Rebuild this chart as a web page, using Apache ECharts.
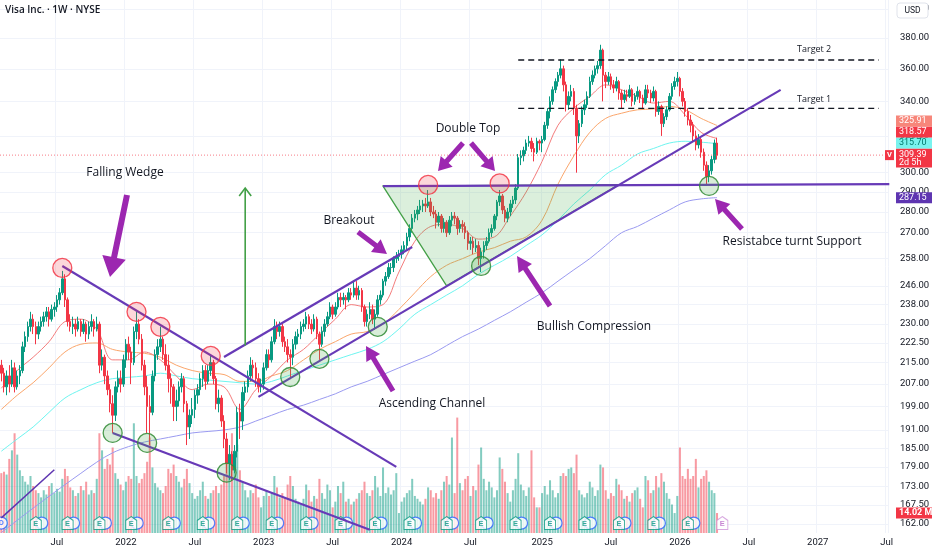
<!DOCTYPE html>
<html><head><meta charset="utf-8">
<script src="https://cdn.jsdelivr.net/npm/echarts@6/dist/echarts.min.js"></script>
<style>html,body{margin:0;padding:0;background:#fff}#c{width:932px;height:550px}</style>
</head><body><div id="c"></div>
<script>
// ---------------- DATA ----------------
const firstWeek = '2021-02-08';   // Monday of first weekly bar
const weekSlots = 335;            // axis runs to Jul 2027
// weekly bars: [open, high, low, close]
const weeklyOHLC = [
[214,216,208,211],[211,213,204,206],[206,212,203,210],[210,214,204,207],[207,216,206,213],[213,215,204,206],[206,212,205,210],[210,214,207,212],[212,223,211,221],[221,227,219,225],
[225,231,223,229],[229,235,227,232],[232,234,226,229],[229,231,222,226],[226,231,224,229],[229,233,227,231],[231,235,229,233],[233,237,231,235],[235,237,229,232],[232,238,231,236],
[236,239,233,237],[237,242,235,240],[240,245,238,243],[243,252.5,242,249],[249,251,237,240],[240,241,229,231],[231,234,227,229],[229,233,226,230],[230,232,225,228],[228,233,227,231],
[231,232,225,227],[227,232,226,230],[230,231,223,226],[226,231,224,229],[229,234,227,231],[231,232,225,228],[228,233,227,230],[230,231,211,214],[214,220,212,217],[217,218,207,210],
[210,212,203,205],[205,207,197,200],[200,203,190,196],[196,208,194,206],[206,212,204,209],[209,212,204,207],[207,218,206,216],[216,224,213,222],[222,225,216,219],[219,221,207,215],
[215,229,214,227],[227,235,224,230],[230,232,222,224],[224,226,212,214],[214,216,203,206],[206,210,190,199],[199,203,186,197],[197,212,196,210],[210,220,208,218],[218,224,216,221],
[221,229,219,224],[224,225,216,218],[218,222,212,214],[214,218,204,209],[209,211,200,206],[206,207,194,199],[199,205,194,201],[201,208,199,206],[206,211,204,209],[209,210,197,200],
[200,201,186,192],[192,198,188,196],[196,202,193,198],[198,205,195,203],[203,207,200,205],[205,211,203,209],[209,214,206,212],[212,214,205,208],[208,214,207,212],[212,217.5,210,215],
[215,216,207,209],[209,210,198,200],[200,205,197,202],[202,203,192,194],[194,196,185,188],[188,190,177,180],[180,186,175,183],[183,184,174.6,178],[178,186,177,184],[184,199,182,197],
[197,200,188,194],[194,206,191,204],[204,208,201,206],[206,212,204,210],[210,217,208,214],[214,216,209,213],[213,215,206,209],[209,211,204,206],[206,209,204,207],[207,215,205,213],
[213,220,212,218],[218,220,213,216],[216,225,215,223],[223,232,222,229],[229,231,224,227],[227,231,225,229],[229,230,221,223],[223,225,219,221],[221,224,215,218],[218,220,208.8,217],
[217,224,214,222],[222,227,220,225],[225,228,222,226],[226,231,224,229],[229,232,227,230],[230,235,228,233],[233,234,228,230],[230,232,226,228],[228,234,227,232],[232,233,224,226],
[226,227,216,222],[222,229,221,227],[227,232,225,230],[230,235,229,233],[233,239,232,237],[237,238,232,234],[234,239,233,237],[237,243,236,241],[241,243,237,240],[240,243,238,241],
[241,242,236,240],[240,245,239,243],[243,245,240,242],[242,248,241,245],[245,248,240,242],[242,246,240,244],[244,245,235,237],[237,238,229,231],[231,236,229,234],[234,239,232,236],
[236,238,230,232],[232,236,227.8,234],[234,242,233,240],[240,244,238,242],[242,249,241,248],[248,252,246,250],[250,256,249,254],[254,256,251,254],[254,259,252,258],[258,261,256,259],
[259,262,257,260],[260,264,258,262],[262,266,260,264],[264,270,262,268],[268,274,266,272],[272,279,270,277],[277,281,275,279],[279,283,276,281],[281,286,279,283],[283,286,280,284],
[284,287,280,283],[283,291,282,285],[285,287,278,280],[280,283,277,279],[279,281,272,275],[275,280,273,278],[278,279,270,272],[272,277,270,275],[275,276,268,270],[270,278,269,276],
[276,280,273,278],[278,280,274,277],[277,278,269,272],[272,276,270,274],[274,276,270,273],[273,275,267,270],[270,271,262,265],[265,268,262,266],[266,268,260,263],[263,267,261,264],
[264,266,255,258],[258,263,252,261],[261,266,258,264],[264,268,262,266],[266,272,265,270],[270,274,268,272],[272,279,271,278],[278,286,276,285],[285,291,283,288],[288,289,279,281],
[281,283,275,277],[277,282,275,280],[280,286,278,284],[284,288,282,286],[286,294,284,292],[292,310,291,308],[308,312,304,309],[309,314,306,312],[312,318,310,316],[316,320,314,317],
[317,319,311,313],[313,316,306,311],[311,319,310,317],[317,318,312,316],[316,320,311,318],[318,328,317,326],[326,336,324,334],[334,343,330,340],[340,349,338,347],[347,354,345,352],
[352,358,349,356],[356,366,354,360],[360,362,346,350],[350,352,334,338],[338,346,335,343],[343,350,340,346],[346,348,332,336],[336,338,300,320],[320,329,316,327],[327,337,325,335],
[335,341,332,338],[338,346,336,343],[343,355,342,352],[352,359,350,356],[356,362,354,360],[360,365,357,362],[362,375.5,360,372],[372,373,340,356],[356,358,348,352],[352,358,350,355],
[355,357,347,350],[350,353,345,348],[348,355,346,352],[352,353,341,345],[345,347,336,341],[341,347,339,344],[344,347,340,343],[343,350,342,347],[347,348,337,340],[340,345,338,343],
[343,349,341,346],[346,347,339,342],[342,344,336,339],[339,350,338,347],[347,350,342,345],[345,347,339,342],[342,349,340,346],[346,347,331,334],[334,340,332,337],[337,338,320,327],
[327,333,325,331],[331,337,329,335],[335,345,334,343],[343,351,341,349],[349,355,347,352],[352,358,349,354],[354,355,343,346],[346,348,337,340],[340,342,331,334],[334,336,326,329],
[329,332,322,326],[326,328,317,320],[320,323,312,315],[315,321,313,318],[318,319,308,311],[311,313,301,304],[304,306,294,298],[298,304,295,301],[301,309,299,307],[307,318,305,316],
[316,319,307,309.39]
];
// weekly volume, millions
const weeklyVolume = [
42,43,41,52,58,70,55,44,40,36, 34,40,33,30,28,25,30,27,33,35, 28,31,29,38,45,40,32,30,26,28,
33,30,36,27,30,28,38,70,58,45, 52,48,60,42,38,34,30,36,40,38, 77,40,35,38,42,50,67,46,35,32,
30,28,33,45,42,48,40,36,32,38, 45,35,28,24,26,30,36,26,24,28, 30,33,28,34,40,52,48,70,45,62,
44,36,30,25,30,28,34,25,18,26, 30,26,28,40,32,25,28,25,34,40, 33,24,22,20,24,34,30,22,26,24,
38,28,24,34,30,18,22,33,28,36, 22,24,20,22,24,28,30,36,28,26, 30,40,32,26,46,28,32,27,30,42,
14,22,25,28,30,38,26,24,22,20, 24,32,30,25,28,24,30,36,40,34, 67,28,81,35,30,38,40,26,33,30,
48,60,38,30,36,32,25,30,53,45, 36,28,22,30,38,56,34,30,26,32, 58,25,18,18,28,33,27,37,30,25,
28,40,42,40,45,46,42,55,30,27, 25,28,36,32,26,30,48,46,30,24, 28,26,38,34,30,24,26,22,28,30,
32,24,18,40,37,28,30,40,32,42, 36,28,24,20,14,26,60,40,38,45, 38,40,52,32,38,40,44,36,30,28,
14.02
];
// moving averages sampled every 6 weeks
const maWeeks  = [0,6,12,18,24,30,36,42,48,54,60,66,72,78,84,90,96,102,108,114,120,126,132,138,144,150,156,162,168,174,180,186,192,198,204,210,216,222,228,234,240,246,252,258,264,270];
const maRed    = [205.5,212,217,223,231,232,228,216,216,219,216,210,205,207,206,198,205,210,216,220,226,232,238,237,238,252,266,273,274,272,267,268,278,290,306,326,336,343,350,347,343,339,340,332,322,318.57];
const maOrange = [198,203,207.5,213,219,222,222.5,220,219,218.5,217,214,212,211,210.5,208,208,210,212,216,220,223,226,227,230,236,243,250,255,258,261,263,266,268,276,294,309,322,330,333,335,335.5,337,335,330,325.91];
const maCyan   = [184,188,192,197,202,205,207.5,209,209.5,210,211,210,209,208.5,208,207.5,207,208,210,212,214,216,218,220,223,228,234,238,242,246,251,255,259,264,269,276,284,291,299,304,310,313,316,317,316.5,315.70];
const maBlue   = [159.5,163,166.5,170,173.5,177,180.5,183.5,185.5,187,188,189,190,190.5,191,192,194,196,198,199.5,201.5,203.5,206,208,210.5,213,215.5,218,221.5,225,228,231.5,235,239,243,248,253,258,264,270,273,277,281,285,286.5,287.15];
const priceTicks = [162,167.5,173,179,185,191,199,207,215,222.5,230,238,246,258,270,280,290,300,320,340,360,380,400];
const earningsWeeks = [13,25,37,49,63,76,89,102,115,128,141,154,168,181,194,207,220,233,246,259,272];
const lastPrice = 309.39;

// annotation anchors [week, price]
const redCircles   = [[23.3,253.8],[51.2,235.0],[59.9,228.9],[79.1,217.5],[161,293.6],[187.7,294.4]];
const greenCircles = [[42.1,190.0],[55,186.7],[85.1,177.2],[108.9,209.6],[119.8,216.4],[141.7,228.9],[181,254.7],[266.6,293.1]];
const trendLines = [
  [[23.3,254.7],[149.3,179.0]],   // wedge upper
  [[42.1,190.0],[139,160.3]],     // wedge lower
  [[96.8,202.4],[293.7,346.9]],   // channel lower / support
  [[83.6,217.1],[154.9,263.3]],   // channel upper
  [[-0.5,163.7],[19.5,178.1]],    // small left line
  [[144,293],[334.5,294]]         // resistance turned support
];
const targetLines = [[[195,365.6],[330.7,365.6]],[[195,335.9],[330.7,335.9]]];
const triangle = [[144,293],[168,246],[233.4,293.8]];
const upArrow = [[92.3,221.5],[92.3,292]];

// ---------------- CHART ----------------
const DAY = 864e5;
const t0 = Date.UTC(2021,1,8);
const weekDates = Array.from({length: weekSlots}, (_, i) => new Date(t0 + i*7*DAY));
const categories = weekDates.map(d => d.toISOString().slice(0,10));
const isLabelWeek = i => { const d = weekDates[i]; const m = d.getUTCMonth(); return (m === 0 || m === 6) && d.getUTCDate() <= 7; };
const UP = '#089981', DN = '#f23645';
const FONT = 'Roboto, "Noto Sans", sans-serif';

const chart = echarts.init(document.getElementById('c'));
chart.setOption({
  animation: false,
  backgroundColor: '#ffffff',
  grid: [
    {left: 0, right: 44, top: 0, bottom: 17, outerBoundsMode: 'none'},
    {left: 0, right: 44, top: 362, bottom: 17, outerBoundsMode: 'none'}
  ],
  xAxis: [
    {type: 'category', gridIndex: 0, data: categories, boundaryGap: true,
     axisLine: {show: false}, axisTick: {show: false},
     axisLabel: {interval: (i) => isLabelWeek(i), color: '#131722', fontSize: 9.5, fontFamily: FONT, margin: 5,
       formatter: (v, i) => { const d = weekDates[i]; return d.getUTCMonth() === 0 ? String(d.getUTCFullYear()) : 'Jul'; }},
     splitLine: {show: true, interval: (i) => isLabelWeek(i), lineStyle: {color: '#f0f3fa', width: 1}}},
    {type: 'category', gridIndex: 1, data: categories, boundaryGap: true, show: false}
  ],
  yAxis: [
    {type: 'log', logBase: 10, gridIndex: 0, position: 'right', min: 159.4, max: 406.2,
     axisLine: {show: false}, axisTick: {show: false, customValues: priceTicks},
     axisLabel: {customValues: priceTicks, formatter: v => Number(v).toFixed(2), color: '#131722', fontSize: 9.5, fontFamily: FONT, margin: 12},
     splitLine: {show: true, lineStyle: {color: '#f0f3fa', width: 1}}},
    {type: 'value', gridIndex: 1, min: 0, max: 120, show: false, splitLine: {show: false}}
  ],
  series: [
    {type: 'bar', xAxisIndex: 1, yAxisIndex: 1, barWidth: '76%', z: 1,
     data: weeklyVolume.map((v, i) => ({value: v, itemStyle: {color: weeklyOHLC[i][3] >= weeklyOHLC[i][0] ? 'rgba(8,153,129,0.5)' : 'rgba(242,54,69,0.5)'}}))},
    {type: 'scatter', xAxisIndex: 1, yAxisIndex: 1, z: 3, symbol: 'circle', symbolSize: 12, symbolOffset: [6, 0],
     itemStyle: {color: '#fff', borderColor: '#2962ff', borderWidth: 1.2},
     data: earningsWeeks.slice(0, -1).map(w => [w, 7]).concat([{value: [0, 7], symbolOffset: [0, 0], label: {show: true, formatter: 'D', color: '#2962ff', fontSize: 7, fontWeight: 'bold'}}])},
    {type: 'scatter', xAxisIndex: 1, yAxisIndex: 1, z: 4, symbol: 'path://M5,0L10,3.6L10,12L0,12L0,3.6Z', symbolSize: [11, 13],
     itemStyle: {color: '#fff', borderColor: UP, borderWidth: 1},
     label: {show: true, formatter: 'E', position: 'inside', color: UP, fontSize: 7.5, fontWeight: 'bold', offset: [0, 1]},
     data: earningsWeeks.map((w, i) => i === earningsWeeks.length - 1
        ? {value: [w, 7], itemStyle: {borderColor: '#ce93d8', color: '#fff'}, label: {color: '#ba68c8'}}
        : [w, 7])},
    {type: 'line', xAxisIndex: 0, yAxisIndex: 0, z: 2, smooth: 0.35, symbol: 'none', lineStyle: {color: '#9a9af0', width: 1}, data: maWeeks.map((w, i) => [w, maBlue[i]])},
    {type: 'line', xAxisIndex: 0, yAxisIndex: 0, z: 2, smooth: 0.35, symbol: 'none', lineStyle: {color: '#6ef5f0', width: 1}, data: maWeeks.map((w, i) => [w, maCyan[i]])},
    {type: 'line', xAxisIndex: 0, yAxisIndex: 0, z: 2, smooth: 0.35, symbol: 'none', lineStyle: {color: '#fba66c', width: 1}, data: maWeeks.map((w, i) => [w, maOrange[i]])},
    {type: 'line', xAxisIndex: 0, yAxisIndex: 0, z: 2, smooth: 0.35, symbol: 'none', lineStyle: {color: '#f47c7c', width: 1}, data: maWeeks.map((w, i) => [w, maRed[i]])},
    {type: 'candlestick', xAxisIndex: 0, yAxisIndex: 0, z: 5, barWidth: 2,
     itemStyle: {color: UP, color0: DN, borderColor: UP, borderColor0: DN, borderWidth: 1},
     data: weeklyOHLC.map(r => [r[0], r[3], r[2], r[1]])}
  ]
});

// ---------------- ANNOTATIONS ----------------
const P = (w, p) => chart.convertToPixel({gridIndex: 0}, [w, p]);
const V = (w, v) => chart.convertToPixel({gridIndex: 1}, [w, v]);
const g = [];
const PURPLE = '#673ab7', ARROW = '#9c27b0';
function line(a, b, stroke, width, dash) {
  const A = P(a[0], a[1]), B = P(b[0], b[1]);
  g.push({type: 'line', z: 20, shape: {x1: A[0], y1: A[1], x2: B[0], y2: B[1]}, style: {stroke, lineWidth: width, lineDash: dash || null}});
}
function arrow(x1, y1, x2, y2, shaft, head, headLen) {
  const dx = x2 - x1, dy = y2 - y1, L = Math.hypot(dx, dy), ux = dx / L, uy = dy / L, nx = -uy, ny = ux;
  const bx = x2 - ux * headLen, by = y2 - uy * headLen;
  g.push({type: 'polygon', z: 22, shape: {points: [
    [x1 + nx * shaft, y1 + ny * shaft], [bx + nx * shaft, by + ny * shaft], [bx + nx * head, by + ny * head], [x2, y2],
    [bx - nx * head, by - ny * head], [bx - nx * shaft, by - ny * shaft], [x1 - nx * shaft, y1 - ny * shaft]]},
    style: {fill: ARROW}});
}
function text(t, x, y, size, align, weight) {
  g.push({type: 'text', z: 25, x, y, style: {text: t, fill: '#131722', fontSize: size, fontFamily: '"Open Sans", "Noto Sans", sans-serif', fontWeight: weight || 'normal', align: align || 'center', verticalAlign: 'middle'}});
}

// triangle
const tri = triangle.map(q => P(q[0], q[1]));
g.push({type: 'polygon', z: 18, shape: {points: tri}, style: {fill: 'rgba(76,175,80,0.2)', stroke: '#43a047', lineWidth: 1.3}});
// price line
const yLast = P(0, lastPrice)[1];
g.push({type: 'line', z: 15, shape: {x1: 0, y1: yLast, x2: 888, y2: yLast}, style: {stroke: 'rgba(242,54,69,0.65)', lineWidth: 1, lineDash: [1, 2]}});
// target lines
targetLines.forEach(l => line(l[0], l[1], '#131722', 1.3, [6, 4]));
// trend lines
trendLines.forEach((l, i) => line(l[0], l[1], i === 4 ? '#5e35b1' : PURPLE, i === 4 ? 1.5 : 2.2));
// green up arrow
{
  const A = P(upArrow[0][0], upArrow[0][1]), B = P(upArrow[1][0], upArrow[1][1]);
  g.push({type: 'polyline', z: 21, shape: {points: [A, B]}, style: {stroke: '#43a047', lineWidth: 1.6}});
  g.push({type: 'polyline', z: 21, shape: {points: [[B[0] - 6, B[1] + 8], B, [B[0] + 6, B[1] + 8]]}, style: {stroke: '#43a047', lineWidth: 1.6, fill: null}});
}
// circles
redCircles.forEach(c => { const q = P(c[0], c[1]); g.push({type: 'circle', z: 23, shape: {cx: q[0], cy: q[1], r: 9.5}, style: {fill: 'rgba(242,54,69,0.2)', stroke: 'rgba(242,54,69,0.85)', lineWidth: 1.3}}); });
greenCircles.forEach(c => { const q = P(c[0], c[1]); g.push({type: 'circle', z: 23, shape: {cx: q[0], cy: q[1], r: 9.5}, style: {fill: 'rgba(76,175,80,0.22)', stroke: 'rgba(56,142,60,0.9)', lineWidth: 1.3}}); });
// arrows (drawings)
arrow(127, 195, 110, 277, 3, 12, 20);
arrow(463, 143, 438, 171, 2.6, 8, 13);
arrow(471, 143, 495, 171, 2.6, 8, 13);
arrow(358, 232, 387, 254, 2.6, 8, 14);
arrow(393, 391, 366, 346, 2.6, 8, 14);
arrow(550, 306, 517, 256, 2.6, 8, 15);
arrow(742, 229, 715, 199, 2.6, 8, 14);
// texts
text('Falling Wedge', 125, 173, 12);
text('Double Top', 468, 129, 12);
text('Breakout', 349, 221, 12);
text('Ascending Channel', 432, 404, 12);
text('Bullish Compression', 594, 327, 12);
text('Resistabce turnt Support', 792, 242, 12);
text('Target 2', 797, 49, 9, 'left');
text('Target 1', 797, 99, 9, 'left');
text('Visa Inc. · 1W · NYSE', 5, 10, 10, 'left', 600);

// USD box
g.push({type: 'rect', z: 30, shape: {x: 897, y: 3, width: 31, height: 15, r: 3}, style: {fill: '#fff', stroke: '#e0e3eb', lineWidth: 1}});
g.push({type: 'text', z: 31, x: 912.5, y: 10.5, style: {text: 'USD', fill: '#131722', fontSize: 8.5, fontFamily: FONT, align: 'center', verticalAlign: 'middle'}});

// price tags (stacked upward from last price)
const tags = [
  {v: 315.70, bg: '#79f3ee', fg: '#00796b', t: '315.70'},
  {v: 318.57, bg: '#f23645', fg: '#fff', t: '318.57'},
  {v: 325.91, bg: '#f7867a', fg: '#fff', t: '325.91'}
];
let tagTop = yLast - 6.5;
g.push({type: 'rect', z: 30, shape: {x: 896, y: tagTop, width: 36, height: 19}, style: {fill: DN}});
g.push({type: 'text', z: 31, x: 899, y: yLast, style: {text: lastPrice.toFixed(2), fill: '#fff', fontSize: 9, fontFamily: FONT, verticalAlign: 'middle'}});
g.push({type: 'text', z: 31, x: 899, y: yLast + 7.5, style: {text: '2d 5h', fill: '#fff', fontSize: 9, fontFamily: FONT, verticalAlign: 'middle'}});
g.push({type: 'rect', z: 30, shape: {x: 885, y: yLast - 5, width: 9, height: 10}, style: {fill: DN}});
g.push({type: 'text', z: 31, x: 889.5, y: yLast, style: {text: 'V', fill: '#fff', fontSize: 7.5, fontWeight: 'bold', fontFamily: FONT, align: 'center', verticalAlign: 'middle'}});
tags.forEach(tg => {
  const yc = Math.min(P(0, tg.v)[1], tagTop - 5.5);
  tagTop = yc - 5.5;
  g.push({type: 'rect', z: 30, shape: {x: 896, y: yc - 5.5, width: 36, height: 11}, style: {fill: tg.bg}});
  g.push({type: 'text', z: 31, x: 899, y: yc, style: {text: tg.t, fill: tg.fg, fontSize: 9, fontFamily: FONT, verticalAlign: 'middle'}});
});
{
  const y200 = P(0, maBlue[maBlue.length - 1])[1];
  g.push({type: 'rect', z: 30, shape: {x: 896, y: y200 - 5.5, width: 36, height: 11}, style: {fill: '#5e35b1'}});
  g.push({type: 'text', z: 31, x: 899, y: y200, style: {text: maBlue[maBlue.length - 1].toFixed(2), fill: '#fff', fontSize: 9, fontFamily: FONT, verticalAlign: 'middle'}});
  const lastVol = weeklyVolume[weeklyVolume.length - 1];
  const yv = V(weeklyVolume.length - 1, lastVol)[1];
  g.push({type: 'rect', z: 30, shape: {x: 896, y: yv - 5.5, width: 36, height: 11}, style: {fill: DN}});
  g.push({type: 'text', z: 31, x: 899, y: yv, style: {text: lastVol.toFixed(2) + ' M', fill: '#fff', fontSize: 9, fontWeight: 'bold', fontFamily: FONT, verticalAlign: 'middle'}});
}
chart.setOption({graphic: g});
</script>
</body></html>
